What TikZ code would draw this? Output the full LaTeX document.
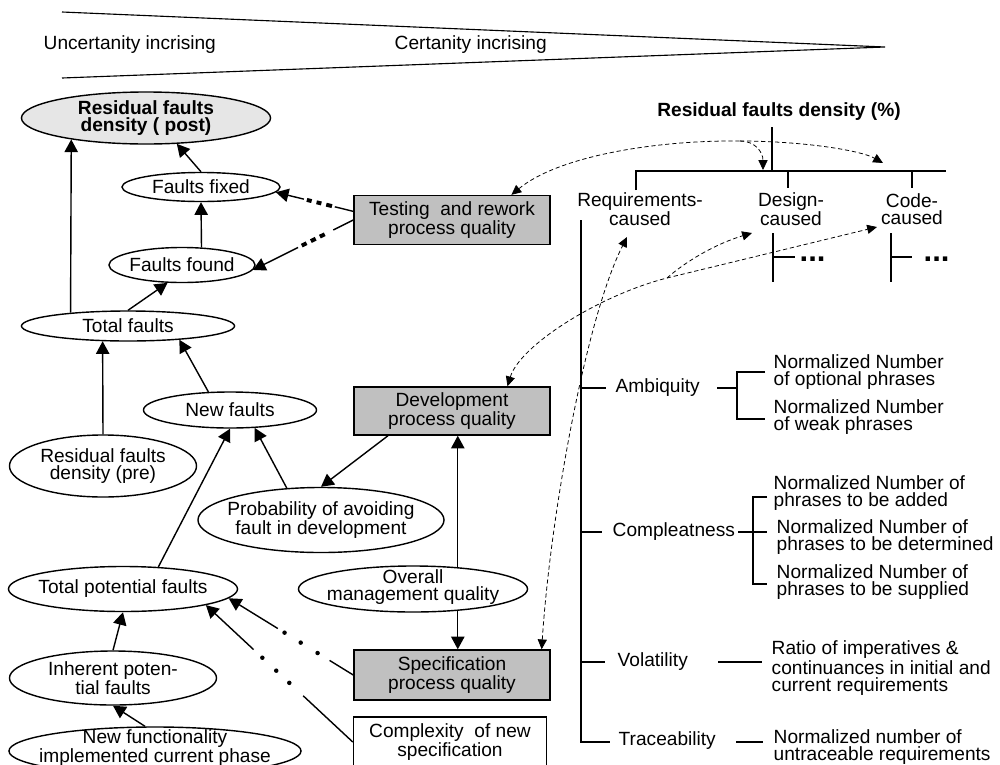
\documentclass[tikz,border=0pt]{standalone}
\usepackage{fontspec}
\setmainfont{Liberation Sans}
\usepackage{tikz}
\usetikzlibrary{shapes.geometric,arrows.meta}

\definecolor{boxgrey}{RGB}{192,192,192}
\definecolor{postgrey}{RGB}{230,230,230}

\tikzset{
  every node/.style={font=\fontsize{13.6}{12}\selectfont},
  oval/.style={ellipse, draw, line width=1pt, inner sep=0pt},
  txt/.style={align=center, inner sep=0pt},
  proc/.style={rectangle, draw, line width=1pt, fill=boxgrey, align=center, inner sep=2pt},
  leaf/.style={anchor=west, align=left, inner sep=0pt},
  arr/.style={-{Triangle[length=9pt,width=9.5pt]}, line width=1pt},
  dtip/.tip={Triangle[length=7pt,width=6.5pt]},
  dlink/.style={line width=0.55pt, dash pattern=on 3pt off 2pt},
  broken/.style 2 args={arr, dash pattern=#1, postaction={draw, -, line width=2.8pt, dash pattern=#2}},
  beads/.style n args={3}{arr, dash pattern=#1, postaction={draw, -, line width=3.2pt, line cap=round, dash pattern=#2, dash phase=#3}},
}

\begin{document}
\begin{tikzpicture}[x=0.025cm, y=-0.025cm, line width=1pt]
\useasboundingbox (0,0) rectangle (1000,764);
\clip (0,0) rectangle (1000,764);

% certainty wedge
\draw[line width=0.8pt] (62,12) -- (885,47) -- (62,78);
\node[leaf] (unc) at (43,45) {Uncertanity incrising};
\node[leaf] (cert) at (394,45) {Certanity incrising};

% causal net
\node[oval, fill=postgrey, minimum width=6.225cm, minimum height=1.3cm] (post) at (146,118) {};
\node[txt, font=\fontsize{13.6}{12}\selectfont\bfseries] at (post) {Residual faults\\density ( post)};
\node[oval, minimum width=3.95cm, minimum height=0.725cm] (ffix) at (201,187) {};
\node[txt] at (ffix) {Faults fixed};
\node[oval, minimum width=3.65cm, minimum height=0.875cm] (ffound) at (182,265) {};
\node[txt] at (ffound) {Faults found};
\node[oval, minimum width=5.325cm, minimum height=0.75cm] (total) at (128,326) {};
\node[txt] at (total) {Total faults};
\node[oval, minimum width=4.325cm, minimum height=0.9cm] (newf) at (230,410) {};
\node[txt] at (newf) {New faults};
\node[oval, minimum width=4.675cm, minimum height=1.55cm] (rpre) at (103,466) {};
\node[txt] at (rpre) {Residual faults\\density (pre)};
\node[oval, minimum width=6.15cm, minimum height=1.625cm] (prob) at (321,520) {};
\node[txt] at (prob) {Probability of avoiding\\fault in development};
\node[oval, minimum width=5.725cm, minimum height=1.15cm] (overall) at (413,589) {};
\node[txt] at ([shift={(0,-2)}]overall) {Overall\\management quality};
\node[oval, minimum width=5.725cm, minimum height=1.125cm] (totpot) at (123,589) {};
\node[txt] at (totpot) {Total potential faults};
\node[oval, minimum width=5.175cm, minimum height=1.35cm] (inh) at (113,678) {};
\node[txt] at (inh) {Inherent poten-\\tial faults};
\node[oval, minimum width=7.3cm, minimum height=1.2cm] (newfun) at (155,751) {};
\node[txt] at ([shift={(0,-3)}]newfun) {New functionality\\implemented current phase};

\node[proc, minimum width=4.9cm, minimum height=1.225cm] (test) at (452,220) {Testing~ and rework\\process quality};
\node[proc, minimum width=4.9cm, minimum height=1.2cm] (dev) at (452,411) {Development\\process quality};
\node[proc, minimum width=4.9cm, minimum height=1.25cm] (spec) at (452,675) {Specification\\process quality};
\node[proc, fill=white, minimum width=4.825cm, minimum height=1.25cm] (cplx) at (450,742) {Complexity~ of new\\specification};

\path[arr]
  (ffix.north) edge (post.-40)
  (ffound.42) edge (ffix.south)
  (total.north) edge (ffound.-129)
  (total.167) edge (post.196)
  (rpre.north) edge (total.-149)
  (newf.140) edge (total.-15)
  (prob.137) edge (newf.-36)
  ([shift={(-64,0)}]dev.south) edge (prob.north)
  (totpot.32) edge (newf.south)
  (overall.26) edge (overall.26 |- dev.south)
  (overall.-26) edge (overall.-26 |- spec.north)
  (inh.north) edge (totpot.south)
  ([shift={(-10,0)}]newfun.north) edge (inh.south);

\draw[broken={on 13.5pt off 22.7pt on 400pt}{on 0pt off 15.6pt on 4.2pt off 3.6pt on 3.5pt off 3.6pt on 3.5pt off 400pt}] (test.175) -- (ffix.-4);
\draw[broken={on 15.9pt off 28pt on 400pt}{on 0pt off 22.7pt on 3.8pt off 3.4pt on 3.8pt off 3.4pt on 3.8pt off 400pt}] (test.west) -- (ffound.-4);
\draw[beads={on 19.8pt off 43.2pt on 400pt}{on 0pt off 14.1pt on 0pt off 13.5pt on 0pt off 100pt}{97.8pt}] (spec.west) -- (totpot.-5);
\draw[beads={on 48.2pt off 48.2pt on 400pt}{on 0pt off 12.7pt on 0pt off 13.5pt on 0pt off 100pt}{64.5pt}] (cplx.west) -- (totpot.-11);

% fault density tree
\node[font=\fontsize{13.6}{12}\selectfont\bfseries] (rfd) at (779,112) {Residual faults density (\%)};
\node[txt] (reqc) at (640,209) {Requirements-\\caused};
\node[txt] (dsgc) at (791,209) {Design-\\caused};
\node[txt] (codec) at (912,209) {Code-\\caused};
\draw (772,127) -- (772,171);
\draw (636,190) -- (636,171) -- (946,171);
\draw (788,171) -- (788,188);
\draw (912,171) -- (912,188);
\draw (773,233) -- (773,282) (773,257) -- (795,257);
\draw (891,233) -- (891,282) (891,257) -- (912,257);
\node[anchor=base west, inner sep=0pt, font=\fontsize{22}{22}\selectfont\bfseries] (dsgmore) at (799,261) {...};
\node[anchor=base west, inner sep=0pt, font=\fontsize{22}{22}\selectfont\bfseries] (codemore) at (923,261) {...};

\draw (581,220) -- (581,742) -- (610,742);
\node[leaf] (amb) at (615,388) {Ambiquity};
\node[leaf] (cmp) at (612,532) {Compleatness};
\node[leaf] (vol) at (617,662) {Volatility};
\node[leaf] (trc) at (618,741) {Traceability};
\draw (581,388) -- (606,388) (717,388) -- (737,388);
\draw (765,372) -- (737,372) -- (737,419) -- (765,419);
\draw (581,532) -- (602,532) (738,532) -- (767,532);
\draw (767,497) -- (753,497) -- (753,584) -- (767,584);
\draw (581,662) -- (605,662) (718,662) -- (762,662);
\draw (736,742) -- (763,742);
\node[leaf] (opt) at (773,372) {Normalized Number\\of optional phrases};
\node[leaf] (weak) at (773,417) {Normalized Number\\of weak phrases};
\node[leaf] (add) at (773,493) {Normalized Number of\\phrases to be added};
\node[leaf] (det) at (776,537) {Normalized Number of\\phrases to be determined};
\node[leaf] (sup) at (776,582) {Normalized Number of\\phrases to be supplied};
\node[leaf] (imp) at (771,668) {Ratio of imperatives \&\\continuances in initial and\\current requirements};
\node[leaf] (untr) at (773,747) {Normalized number of\\untraceable requirements};

% dashed links between the two views
\coordinate (hubA) at (740,141);
\coordinate (dsgtip) at (763,170);
\coordinate (codetip) at (883,163);
\coordinate (hubB) at (667,278);
\coordinate (dsgtipB) at (752,233);
\coordinate (codetipB) at (877,227);
\coordinate (reqtip) at (627,237);
\draw[dlink, dtip-] (test.23) .. controls (560,155) and (660,140) .. (hubA);
\draw[dlink, -dtip] (hubA) .. controls (755,141) and (763,152) .. (dsgtip);
\draw[dlink, -dtip] (hubA) .. controls (800,141) and (860,150) .. (codetip);
\draw[dlink, dtip-dtip] (dev.24) .. controls (520,345) and (600,295) .. (hubB) -- (codetipB);
\draw[dlink, -dtip] (hubB) .. controls (685,262) and (715,244) .. (dsgtipB);
\draw[dlink, dtip-dtip] (spec.16) .. controls (550,520) and (585,320) .. (reqtip);
\end{tikzpicture}
\end{document}
